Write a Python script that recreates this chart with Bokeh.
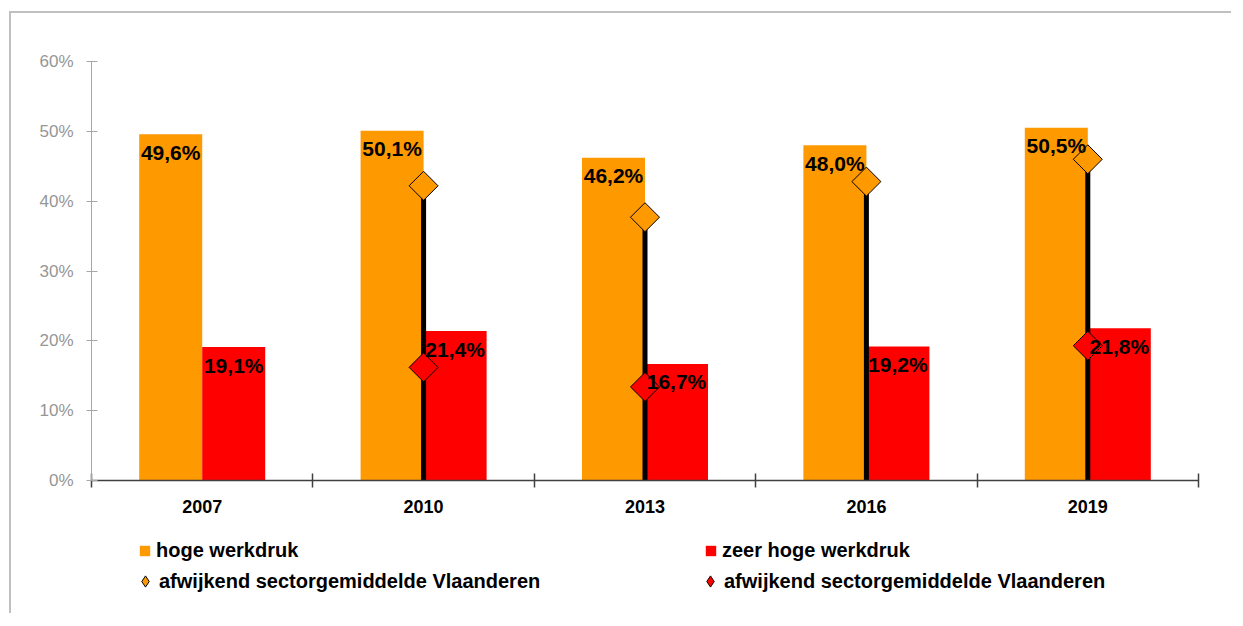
import math
from bokeh.plotting import figure
from bokeh.layouts import column
from bokeh.models import (ColumnDataSource, FixedTicker, PrintfTickFormatter, Legend, LegendItem, Range1d)
from bokeh.transform import dodge
from bokeh.core.properties import value
from bokeh.embed import file_html
from bokeh.resources import INLINE

nan = float("nan")

# ---- data ----
years = ["2007", "2010", "2013", "2016", "2019"]
hoge = [49.6, 50.1, 46.2, 48.0, 50.5]
zeer_hoge = [19.1, 21.4, 16.7, 19.2, 21.8]
sector_hoge = [nan, 42.2, 37.7, 42.8, 46.0]
sector_zeer = [nan, 16.2, 13.4, nan, 19.3]
y_ticks = [0, 10, 20, 30, 40, 50, 60]
legend_labels = ["hoge werkdruk", "zeer hoge werkdruk",
                 "afwijkend sectorgemiddelde Vlaanderen", "afwijkend sectorgemiddelde Vlaanderen"]

ORANGE = "#FF9900"
RED = "#FF0000"
FONT = "Liberation Sans"

def fmt(v):
    return ("%.1f%%" % v).replace(".", ",")

xc = [i + 0.5 for i in range(len(years))]
src = ColumnDataSource(dict(
    xc=xc, year=years, hoge=hoge, zeer=zeer_hoge,
    s_hoge=sector_hoge, s_zeer=sector_zeer,
    lbl_hoge=[fmt(v) for v in hoge], lbl_zeer=[fmt(v) for v in zeer_hoge],
))

W = 1220
p = figure(width=W, height=512, output_backend="svg", toolbar_location=None,
           x_range=Range1d(0, len(years)), y_range=Range1d(0, 60),
           min_border_left=80, min_border_right=33, min_border_top=48, min_border_bottom=45)
p.outline_line_color = None
p.xgrid.visible = False
p.ygrid.visible = False

BW = 0.2846
DIA = 20.5
p.vbar(x=dodge("xc", -BW / 2, range=p.x_range), top="hoge", width=BW, source=src,
       fill_color=ORANGE, line_color=None)
p.vbar(x=dodge("xc", BW / 2, range=p.x_range), top="zeer", width=BW, source=src,
       fill_color=RED, line_color=None)
p.segment(x0="xc", y0=0, x1="xc", y1="s_hoge", source=src, line_color="black", line_width=5)
p.scatter(x="xc", y="s_hoge", source=src, marker="square", angle=math.pi / 4, size=DIA,
          fill_color=ORANGE, line_color="black", line_width=1)
p.scatter(x="xc", y="s_zeer", source=src, marker="square", angle=math.pi / 4, size=DIA,
          fill_color=RED, line_color="black", line_width=1)

for col, ycol, lbl in ((-BW / 2, "hoge", "lbl_hoge"), (BW / 2, "zeer", "lbl_zeer")):
    p.text(x=dodge("xc", col, range=p.x_range), y=ycol,
           text=lbl, source=src, text_align="center", text_baseline="middle", y_offset=18,
           text_font=value(FONT), text_font_style="bold", text_font_size="21px", text_color="black")

# y axis
ya = p.yaxis[0]
ya.ticker = FixedTicker(ticks=y_ticks, minor_ticks=[])
ya.formatter = PrintfTickFormatter(format="%d%%")
ya.axis_line_color = "#a6a6a6"
ya.major_tick_line_color = "#a6a6a6"
ya.major_tick_in = 6
ya.major_tick_out = 5
ya.major_label_standoff = 13
ya.major_label_text_font = FONT
ya.major_label_text_font_size = "17px"
ya.major_label_text_color = "#969696"

# x axis
xa = p.xaxis[0]
xa.ticker = FixedTicker(ticks=xc, minor_ticks=list(range(len(years) + 1)))
xa.major_label_overrides = {x: y for x, y in zip(xc, years)}
xa.axis_line_color = "#404040"
xa.axis_line_width = 1.5
xa.major_tick_in = 0
xa.major_tick_out = 0
xa.minor_tick_line_color = "#404040"
xa.minor_tick_line_width = 1.5
xa.minor_tick_in = 7
xa.minor_tick_out = 7
xa.major_label_standoff = 12
xa.major_label_text_font = FONT
xa.major_label_text_font_style = "bold"
xa.major_label_text_font_size = "18px"
xa.major_label_text_color = "black"

# ---- legend strip (proxy renderers carry no visible data) ----
LH = 88
q = figure(width=W, height=LH, output_backend="svg", toolbar_location=None,
           x_range=Range1d(0, 1), y_range=Range1d(0, 1),
           x_axis_location=None, y_axis_location=None, min_border=0)
q.outline_line_color = None
q.xgrid.visible = False
q.ygrid.visible = False
r_o = q.vbar(x=[nan], top=[nan], width=1, fill_color=ORANGE, line_color=None)
r_r = q.vbar(x=[nan], top=[nan], width=1, fill_color=RED, line_color=None)
d_o = q.scatter(x=[nan], y=[nan], marker="diamond", size=12,
                fill_color=ORANGE, line_color="black", line_width=1)
d_r = q.scatter(x=[nan], y=[nan], marker="diamond", size=12,
                fill_color=RED, line_color="black", line_width=1)

def add_legend(label, renderer, loc, g, standoff):
    lg = Legend(items=[LegendItem(label=label, renderers=[renderer])], location=loc,
                glyph_width=g, glyph_height=g, label_standoff=standoff,
                padding=0, margin=0, spacing=0, border_line_color=None,
                background_fill_alpha=0, label_text_font=FONT, label_text_font_style="bold",
                label_text_font_size="20px", label_text_color="black")
    q.add_layout(lg, "center")

add_legend(legend_labels[0], r_o, (47, 51), 13, 5)
add_legend(legend_labels[1], r_r, (613, 51), 13, 5)
add_legend(legend_labels[2], d_o, (40, 18), 28, -6)
add_legend(legend_labels[3], d_r, (605, 18), 28, -6)

lay = column(p, q, spacing=0)
lay.styles = {"border-top": "2px solid #c0c0c0", "border-left": "2px solid #c0c0c0",
              "margin-left": "9px", "margin-top": "11px"}

open("out.html", "w").write(file_html(lay, INLINE))
